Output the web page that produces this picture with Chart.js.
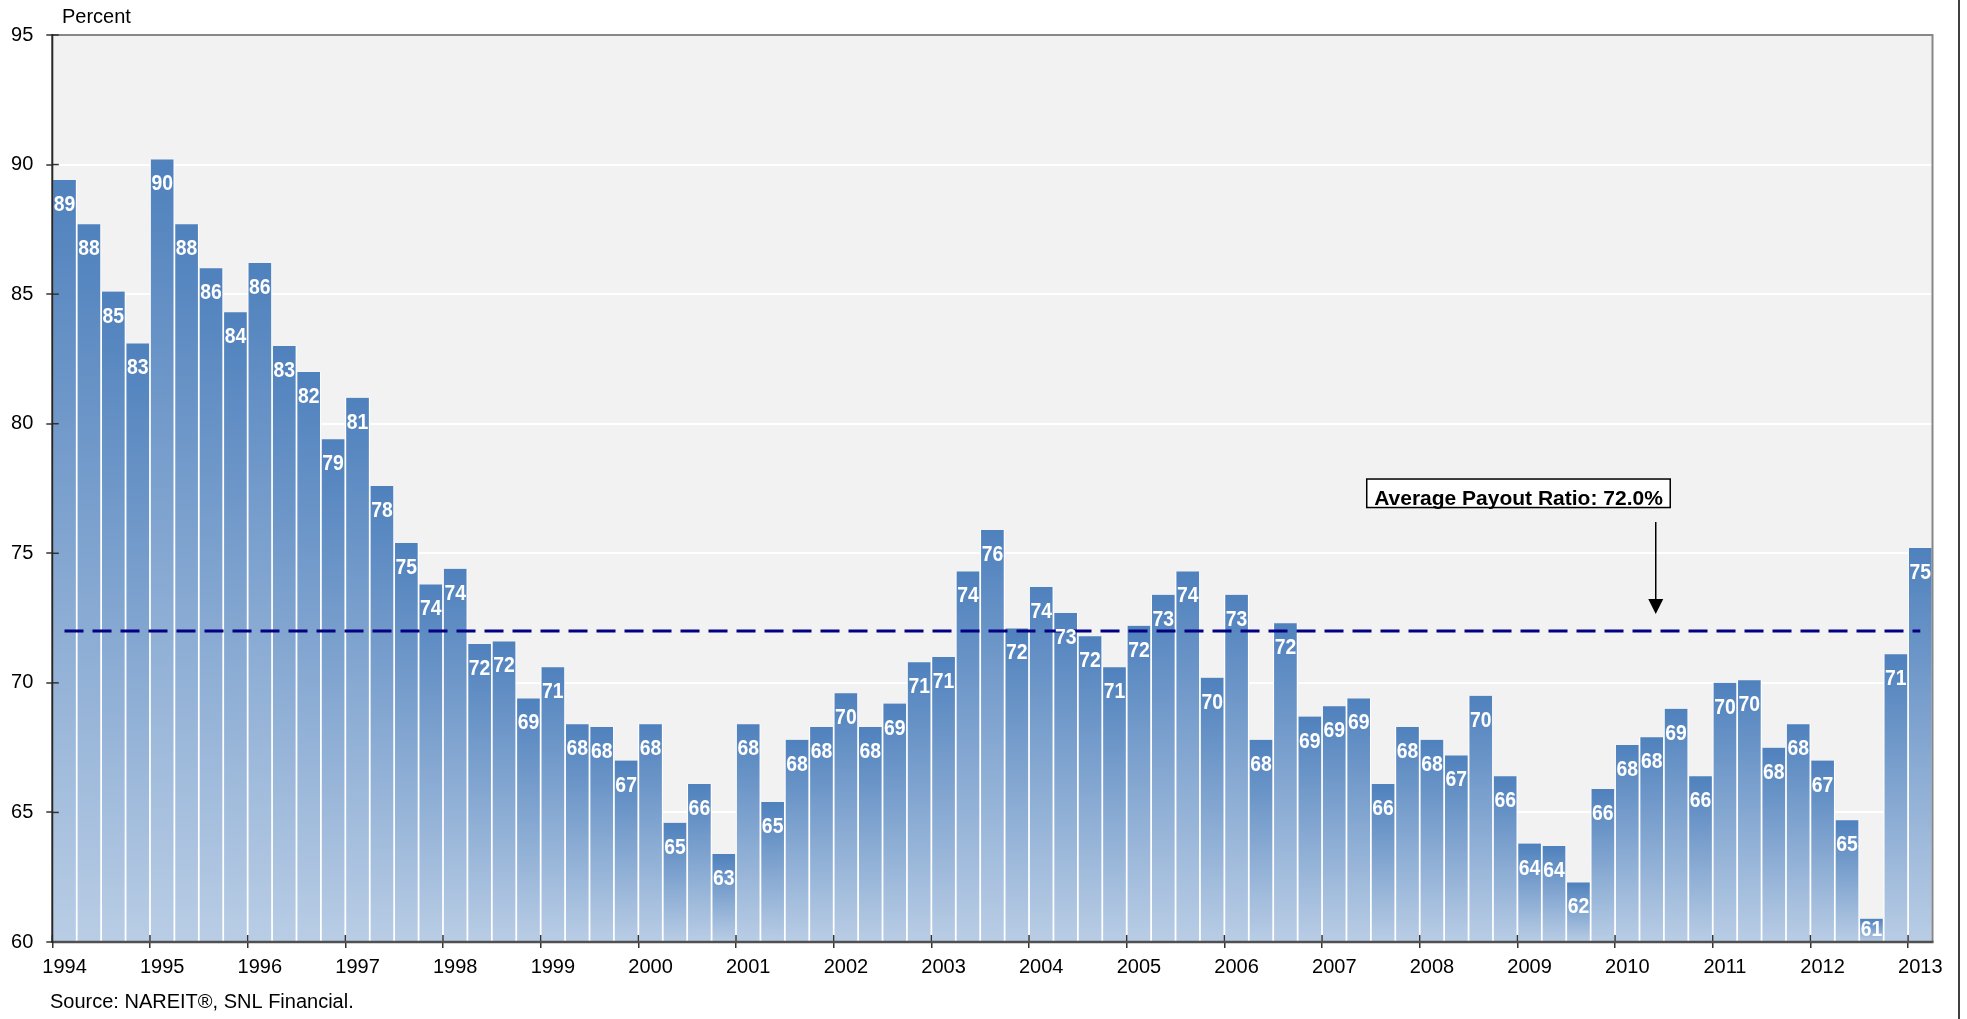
<!DOCTYPE html>
<html>
<head>
<meta charset="utf-8">
<script src="https://cdn.jsdelivr.net/npm/chart.js@4.4.1/dist/chart.umd.min.js"></script>
<style>
  html, body { margin: 0; padding: 0; background: #ffffff; }
  #wrap { width: 1967px; height: 1019px; position: relative; }
</style>
</head>
<body>
<div id="wrap"><canvas id="chart"></canvas></div>
<script>
// ---------------- data ----------------
const years = [1994, 1995, 1996, 1997, 1998, 1999, 2000, 2001, 2002, 2003,
               2004, 2005, 2006, 2007, 2008, 2009, 2010, 2011, 2012, 2013];
const quarterNames = ['Q1', 'Q2', 'Q3', 'Q4'];
const lastYearQuarters = 1; // 2013 has only Q1

const payoutRatio = [
  89.4, 87.7, 85.1, 83.1,   // 1994
  90.2, 87.7, 86.0, 84.3,   // 1995
  86.2, 83.0, 82.0, 79.4,   // 1996
  81.0, 77.6, 75.4, 73.8,   // 1997
  74.4, 71.5, 71.6, 69.4,   // 1998
  70.6, 68.4, 68.3, 67.0,   // 1999
  68.4, 64.6, 66.1, 63.4,   // 2000
  68.4, 65.4, 67.8, 68.3,   // 2001
  69.6, 68.3, 69.2, 70.8,   // 2002
  71.0, 74.3, 75.9, 72.1,   // 2003
  73.7, 72.7, 71.8, 70.6,   // 2004
  72.2, 73.4, 74.3, 70.2,   // 2005
  73.4, 67.8, 72.3, 68.7,   // 2006
  69.1, 69.4, 66.1, 68.3,   // 2007
  67.8, 67.2, 69.5, 66.4,   // 2008
  63.8, 63.7, 62.3, 65.9,   // 2009
  67.6, 67.9, 69.0, 66.4,   // 2010
  70.0, 70.1, 67.5, 68.4,   // 2011
  67.0, 64.7, 60.9, 71.1,   // 2012
  75.2                      // 2013
];
const averagePayout = 72.0;
const averageLabel = 'Average Payout Ratio: 72.0%';
const yTickValues = [60, 65, 70, 75, 80, 85, 90, 95];
const yAxisTitle = 'Percent';
const sourceNote = 'Source: NAREIT\u00AE, SNL Financial.';

// category labels built from years / quarters
const categories = [];
years.forEach((yr, yi) => {
  const nq = (yi === years.length - 1) ? lastYearQuarters : 4;
  for (let q = 0; q < nq; q++) categories.push(yr + ' ' + quarterNames[q]);
});

// ---------------- styling ----------------
const FONT = "'Liberation Sans', Arial, Helvetica, sans-serif";
const BAR_TOP = '#4f81bd';
const BAR_BOTTOM = '#b9cde5';

function barGradient(context) {
  const chart = context.chart;
  if (!chart.chartArea || context.type !== 'data') return BAR_TOP;
  const ys = chart.scales.y;
  const top = ys.getPixelForValue(context.raw);
  const bottom = ys.getPixelForValue(ys.min);
  if (!isFinite(top) || !isFinite(bottom) || bottom - top < 1) return BAR_TOP;
  const g = chart.ctx.createLinearGradient(0, top, 0, bottom);
  g.addColorStop(0, BAR_TOP);
  g.addColorStop(1, BAR_BOTTOM);
  return g;
}

const decorPlugin = {
  id: 'decor',
  beforeDraw(chart) {
    const { ctx, chartArea: a } = chart;
    ctx.save();
    ctx.fillStyle = '#f2f2f2';
    ctx.fillRect(a.left, a.top, a.right - a.left, a.bottom - a.top);
    ctx.restore();
  },
  afterDatasetsDraw(chart) {
    const { ctx, chartArea: a } = chart;
    const xs = chart.scales.x, ys = chart.scales.y;
    const n = categories.length;

    // average dashed line: from first to last category centre
    const yAvg = ys.getPixelForValue(averagePayout);
    ctx.save();
    ctx.strokeStyle = '#000080';
    ctx.lineWidth = 3;
    ctx.setLineDash([19, 9]);
    ctx.beginPath();
    ctx.moveTo(xs.getPixelForValue(0), yAvg);
    ctx.lineTo(xs.getPixelForValue(n - 1), yAvg);
    ctx.stroke();
    ctx.restore();

    // data labels (inside end)
    const meta = chart.getDatasetMeta(0);
    const bottom = ys.getPixelForValue(ys.min);
    ctx.save();
    ctx.fillStyle = '#ffffff';
    ctx.font = 'bold 22px ' + FONT;
    ctx.textAlign = 'center';
    ctx.textBaseline = 'middle';
    meta.data.forEach((bar, i) => {
      const top = bar.y;
      const yy = Math.min(top + 25, (top + bottom) / 2);
      ctx.save();
      ctx.translate(bar.x, yy);
      ctx.scale(0.88, 1);
      ctx.fillText(String(Math.round(payoutRatio[i])), 0, 0);
      ctx.restore();
    });
    ctx.restore();

    // annotation box + arrow
    const arrowX = a.left + (a.right - a.left) * 0.8528;
    const tipY = yAvg - 17;
    ctx.save();
    ctx.font = 'bold 21px ' + FONT;
    const boxL = arrowX - 289, boxR = arrowX + 14.5;
    const boxT = yAvg - 152, boxB = yAvg - 123.5;
    ctx.fillStyle = '#ffffff';
    ctx.fillRect(boxL, boxT, boxR - boxL, boxB - boxT);
    ctx.strokeStyle = '#000000';
    ctx.lineWidth = 1.5;
    ctx.strokeRect(boxL, boxT, boxR - boxL, boxB - boxT);
    ctx.fillStyle = '#000000';
    ctx.textAlign = 'center';
    ctx.textBaseline = 'alphabetic';
    ctx.fillText(averageLabel, (boxL + boxR) / 2, boxB - 3);
    // arrow
    ctx.lineWidth = 1.5;
    ctx.beginPath();
    ctx.moveTo(arrowX, yAvg - 109);
    ctx.lineTo(arrowX, tipY - 12);
    ctx.stroke();
    ctx.beginPath();
    ctx.moveTo(arrowX - 7.5, tipY - 15);
    ctx.lineTo(arrowX + 7.5, tipY - 15);
    ctx.lineTo(arrowX, tipY);
    ctx.closePath();
    ctx.fill();
    ctx.restore();
  },
  afterDraw(chart) {
    const { ctx, chartArea: a } = chart;
    const xs = chart.scales.x, ys = chart.scales.y;
    const n = categories.length;
    const cw = (a.right - a.left) / n;
    ctx.save();
    // top + right plot border
    ctx.strokeStyle = '#878787';
    ctx.lineWidth = 2;
    ctx.beginPath();
    ctx.moveTo(a.left, a.top);
    ctx.lineTo(a.right, a.top);
    ctx.lineTo(a.right, a.bottom);
    ctx.stroke();
    // inner parts of tick marks
    ctx.strokeStyle = '#333333';
    ctx.lineWidth = 1.5;
    yTickValues.forEach(v => {
      const py = ys.getPixelForValue(v);
      ctx.beginPath();
      ctx.moveTo(a.left, py);
      ctx.lineTo(a.left + 6.5, py);
      ctx.stroke();
    });
    for (let i = 0; i < n; i += 4) {
      const px = xs.getPixelForValue(i) - cw / 2;
      ctx.beginPath();
      ctx.moveTo(px, a.bottom);
      ctx.lineTo(px, a.bottom - 7);
      ctx.stroke();
    }
    // bottom axis
    ctx.strokeStyle = '#505050';
    ctx.lineWidth = 2.5;
    ctx.beginPath();
    ctx.moveTo(a.left, a.bottom);
    ctx.lineTo(a.right + 1, a.bottom);
    ctx.stroke();
    // left axis
    ctx.strokeStyle = '#262626';
    ctx.lineWidth = 2;
    ctx.beginPath();
    ctx.moveTo(a.left, a.top - 1);
    ctx.lineTo(a.left, a.bottom + 1);
    ctx.stroke();
    // axis title and source
    ctx.fillStyle = '#000000';
    ctx.font = '20px ' + FONT;
    ctx.textAlign = 'left';
    ctx.textBaseline = 'alphabetic';
    ctx.fillText(yAxisTitle, 62, 23);
    ctx.fillText(sourceNote, 50, 1008);
    // outer frame line at right
    ctx.strokeStyle = '#000000';
    ctx.lineWidth = 1.5;
    ctx.beginPath();
    ctx.moveTo(1959, 0);
    ctx.lineTo(1959, 1019);
    ctx.stroke();
    ctx.restore();
  }
};

new Chart(document.getElementById('chart'), {
  type: 'bar',
  data: {
    labels: categories,
    datasets: [{
      label: 'Payout ratio',
      data: payoutRatio,
      backgroundColor: barGradient,
      borderColor: '#ffffff',
      borderWidth: { left: 1.2, right: 1.2, top: 0, bottom: 0 },
      borderSkipped: false,
      barPercentage: 1.0,
      categoryPercentage: 1.0
    }]
  },
  options: {
    responsive: true,
    maintainAspectRatio: false,
    animation: false,
    layout: { padding: { top: 35, right: 34.5, bottom: 0, left: 0 } },
    plugins: { legend: { display: false }, tooltip: { enabled: false } },
    scales: {
      x: {
        type: 'category',
        offset: true,
        grid: {
          offset: true,
          drawOnChartArea: false,
          drawTicks: true,
          tickLength: 6,
          lineWidth: 1.5,
          color: (c) => (c.index % 4 === 0 ? '#333333' : 'rgba(0,0,0,0)')
        },
        border: { display: false },
        ticks: {
          autoSkip: false,
          maxRotation: 0,
          minRotation: 0,
          padding: 7,
          color: '#000000',
          font: { family: FONT, size: 20 },
          callback: (val, idx) => (idx % 4 === 0 ? categories[idx].split(' ')[0] : '')
        },
        afterFit: (s) => { s.height = 77; }
      },
      y: {
        min: 60,
        max: 95,
        grid: {
          color: (c) => (c.tick && (c.tick.value === 60 || c.tick.value === 95) ? 'rgba(0,0,0,0)' : '#ffffff'),
          lineWidth: 2,
          tickColor: '#333333',
          tickLength: 6,
          tickWidth: 1.5
        },
        border: { display: false },
        afterBuildTicks: (s) => { s.ticks = yTickValues.map(v => ({ value: v })); },
        ticks: {
          padding: 13,
          color: '#000000',
          font: { family: FONT, size: 20 }
        },
        afterFit: (s) => { s.width = 52.3; }
      }
    }
  },
  plugins: [decorPlugin]
});
</script>
</body>
</html>
